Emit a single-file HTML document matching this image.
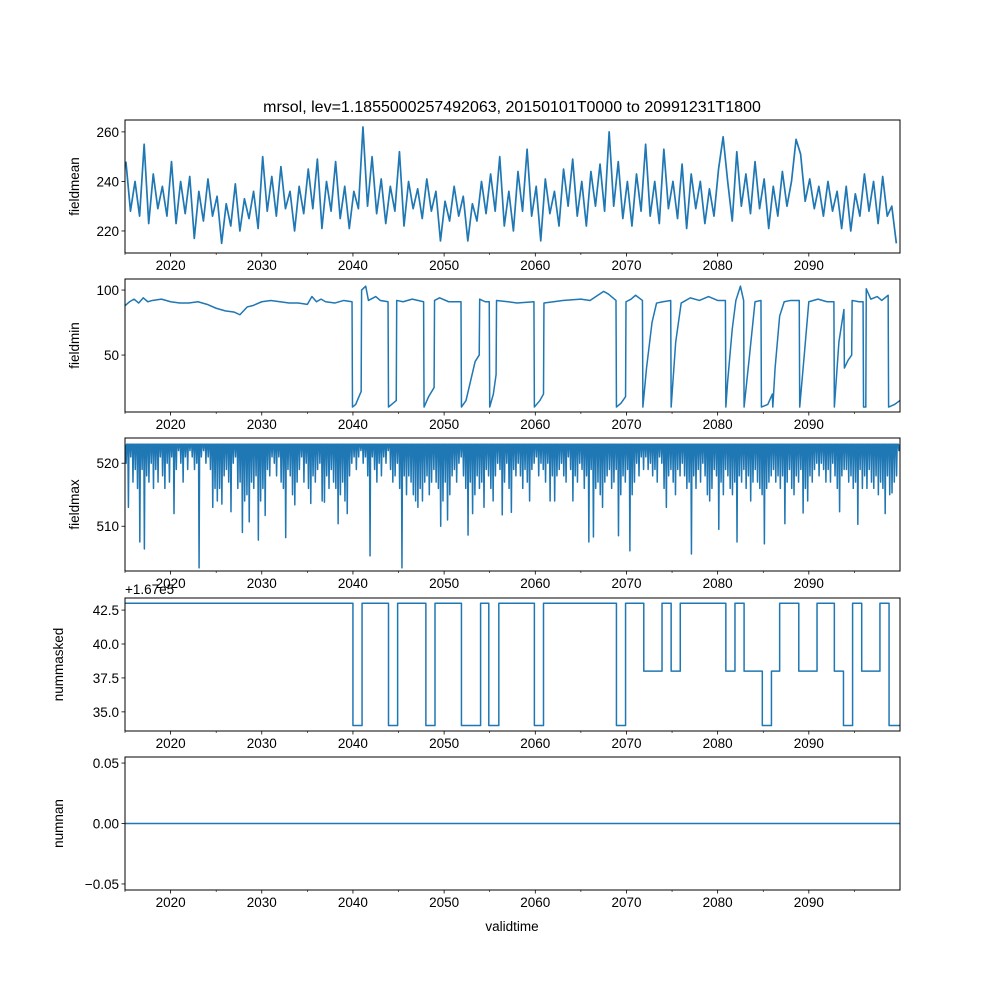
<!DOCTYPE html>
<html><head><meta charset="utf-8"><style>
body{margin:0;background:#fff}
svg text{font-family:"Liberation Sans",sans-serif;fill:#000}
</style></head><body>
<svg id="fig" width="1000" height="1000" xmlns="http://www.w3.org/2000/svg">
<rect width="1000" height="1000" fill="#fff"/>
<text x="512" y="112" font-size="16" text-anchor="middle">mrsol, lev=1.1855000257492063, 20150101T0000 to 20991231T1800</text>
<text x="512" y="931" font-size="13.5" text-anchor="middle">validtime</text>
</svg>
<script>
// ---- data ----
const meanVals = [248,228,240,226,255,223,243,229,238,226,248,223,240,227,242,217,236,224,241,226,234,215,231,222,239,220,233,225,236,221,250,228,242,226,246,229,236,220,238,227,245,229,249,221,240,228,248,225,238,221,236,229,262,230,250,227,241,223,238,228,252,222,240,229,237,225,241,228,236,216,232,224,238,226,234,216,231,224,240,227,243,228,250,222,236,220,244,228,253,226,238,216,241,227,236,222,245,230,249,226,240,222,244,230,247,228,260,230,248,225,240,222,243,228,255,226,240,223,253,229,240,225,247,221,243,229,240,223,237,226,245,258,240,224,252,230,243,227,248,229,241,221,238,226,244,230,240,257,251,232,241,229,238,226,240,228,236,221,238,220,235,226,243,228,240,223,242,226,230,215];
const minYears = [2015,2015.5,2016,2016.5,2017,2017.5,2018,2019,2020,2021,2022,2023,2024,2025,2026,2027,2027.6,2028.4,2029,2030,2031,2032,2033,2034,2035,2035.5,2036,2036.5,2037,2038,2039,2039.9,
2039.95,2040.3,2040.9,2040.95,2041.4,2041.7,2042.5,2043,2043.85,2043.9,2044.75,2044.8,2045.5,2046.5,2047.75,2047.8,2048.3,2048.9,2048.95,2049.5,2050.5,2051.85,2051.9,2052.4,2052.9,2053.4,2053.85,2053.9,2054.5,2054.95,2055.0,2055.4,2055.7,2055.75,2057,2058,2059.85,2059.9,2060.5,2060.9,2060.95,2062,2063,2065,2066,2067.5,2068,2068.85,2068.9,2069.4,2069.9,2069.95,2070.5,2071,2071.75,2071.8,2072.2,2072.8,2073.3,2074,2074.85,2074.9,2075.4,2076.0,2077,2078,2079,2080,2080.85,2080.9,2081.1,2081.6,2082.0,2082.5,2082.85,2082.9,2083.5,2084.1,2084.75,2084.8,2085.5,2086.0,2086.05,2086.3,2086.8,2087.3,2088,2088.95,2089.0,2089.5,2090.0,2091,2092,2092.75,2092.8,2093.3,2093.85,2093.9,2094.3,2094.7,2094.75,2095.5,2095.95,2096.0,2096.25,2096.3,2096.8,2097.5,2098,2098.7,2098.75,2099.4,2099.99];
const minVals = [88,91,93,90,94,91,92,93,91,90,90,91,89,86,84,83,81,87,88,91,92,91,90,90,89,95,91,93,91,90,92,91,
10,12,22,100,103,92,95,92,91,10,15,92,91,93,91,10,18,25,92,94,91,91,10,15,30,45,50,93,91,91,10,20,35,92,91,90,91,10,15,20,90,91,92,93,92,99,97,92,10,13,18,91,93,96,92,10,40,75,90,91,92,10,60,90,94,92,95,92,92,10,30,70,92,103,92,10,50,91,92,10,12,20,10,40,80,91,92,92,10,50,91,93,91,91,10,60,85,40,46,50,92,91,91,10,10,101,93,95,92,96,10,12,15];
const maxVals = [520,513,521,517,519,516,507.5,519,506.4,518,517,520,516,519,517,521,518,516,520,517,521,512,519,522,520,517,521,519,522,521,519,520,503.4,521,522,520,521,519,513,516,514,516,513.5,518,519,517,512.3,520,521,516,517,509,514,515,510.7,517,516,518,507.8,514,516,511.7,519,518,521,520,518,521,517,516,508.2,519,518,515,513.4,517,519,521,517,520,516,513.6,518,517,519,520,514,513.8,518,516,519,517,516,510.4,515,517,514,512,518,520,
521,519,521,522,520,521,518,505.3,521,519,517,520,518,521,520,522,519,517,518,520,516,503.4,518,515,518,517,515,514,513,516,514,517,518,515,517,519,517,516,510,514,517,511,515,518,519,517,520,521,518,516,508.6,517,512,515,518,516,517,513,519,518,516,514,518,520,519,511.8,517,520,516,512.2,519,518,520,518,516,519,517,514,519,520,
521,518,520,519,517,520,514,518,514,518,519,520,518,517,521,519,514,518,517,520,519,516,518,507.5,519,508.3,516,517,515,513,517,518,519,516,517,519,508.5,515,518,517,519,506.1,515,517,520,518,521,519,521,519,520,518,519,517,521,520,516,513,518,519,517,515,519,518,520,518,516,517,505.6,518,516,519,517,520,518,515,514,516,519,518,
509.5,517,515,519,518,516,515,517,507.5,518,517,519,516,518,514,517,519,517,516,515,507.2,516,517,518,519,517,518,516,518,510.4,517,519,516,515,518,517,519,512.1,516,514,518,517,519,520,518,520,519,517,519,517,520,518,516,512.3,518,519,519,517,518,516,517,510.3,519,516,518,516,519,517,516,518,515,517,516,512,518,515,515.3,517,518,522];
const stepYears = [2015,2040.0,2041.0,2043.9,2044.9,2048.0,2049.0,2051.9,2054.0,2054.9,2056.0,2059.9,2060.9,2068.9,2069.9,2071.9,2073.9,2074.9,2075.9,2080.9,2081.9,2082.9,2084.9,2085.9,2086.8,2088.9,2090.9,2092.8,2093.8,2094.8,2095.8,2097.8,2098.8,2100];
const stepVals = [43,34,43,34,43,34,43,34,43,34,43,34,43,34,43,38,43,38,43,38,43,38,34,38,43,38,43,38,34,43,38,43,34,34];
const xTicks = [2020,2030,2040,2050,2060,2070,2080,2090];
const minorTicks = [2015,2025,2035,2045,2055,2065,2075,2085,2095];
const p1Ticks=[220,240,260], p2Ticks=[50,100], p3Ticks=[510,520], p4Ticks=[35.0,37.5,40.0,42.5], p5Ticks=[-0.05,0.00,0.05];
const p4Labels=["35.0","37.5","40.0","42.5"], p5Labels=["−0.05","0.00","0.05"];

// ---- layout ----
const NS="http://www.w3.org/2000/svg", svg=document.getElementById('fig');
const X0=125,X1=900, T0=2015, T1=2100;
const xs=t=>X0+(t-T0)/(T1-T0)*(X1-X0);
const C='#1f77b4';
function el(tag,attrs,parent){const e=document.createElementNS(NS,tag);for(const k in attrs)e.setAttribute(k,attrs[k]);(parent||svg).appendChild(e);return e;}
const panels=[
 {name:'fieldmean',top:120,bot:253,lo:211.1,hi:264.8,ticks:p1Ticks,labels:p1Ticks.map(String)},
 {name:'fieldmin',top:279,bot:412,lo:6.2,hi:108.5,ticks:p2Ticks,labels:p2Ticks.map(String)},
 {name:'fieldmax',top:438,bot:571,lo:502.9,hi:524.0,ticks:p3Ticks,labels:p3Ticks.map(String)},
 {name:'nummasked',top:598,bot:731,lo:33.59,hi:43.39,ticks:p4Ticks,labels:p4Labels},
 {name:'numnan',top:757,bot:890,lo:-0.055,hi:0.055,ticks:p5Ticks,labels:p5Labels}];
panels.forEach((p,pi)=>{
 p.ys=v=>p.bot-(v-p.lo)/(p.hi-p.lo)*(p.bot-p.top);
 const g=el('g',{});
 
 
 const cp=el('clipPath',{id:'cp'+pi},g); el('rect',{x:X0,y:p.top,width:X1-X0,height:p.bot-p.top},cp);
 p.g=g;
 const dg=el('g',{'clip-path':'url(#cp'+pi+')'},g);
 p.dg=dg;
 xTicks.forEach(t=>{
  const tk=el('line',{x1:xs(t),x2:xs(t),y1:p.bot,y2:p.bot+3.5,stroke:'#000','stroke-width':0.8},g);
  
  
  const tl=el('text',{x:xs(t),y:p.bot+17,'font-size':13.5,'text-anchor':'middle'},g);
  tl.textContent=t;
  
  
 });
 minorTicks.forEach(t=>{el('line',{x1:xs(t),x2:xs(t),y1:p.bot,y2:p.bot+2,stroke:'#000','stroke-width':0.6},g);});
 p.ticks.forEach((v,i)=>{
  const y=p.ys(v);
  const tk=el('line',{x1:X0-3.5,x2:X0,y1:y,y2:y,stroke:'#000','stroke-width':0.8},g);
  
  
  const tl=el('text',{x:X0-6,y:y+5,'font-size':13.5,'text-anchor':'end'},g);
  tl.textContent=p.labels[i];
  
  
 });
 const yl=el('text',{x:0,y:0,'font-size':13.5,'text-anchor':'middle',transform:`translate(${pi===4||pi===3?63:79},${(p.top+p.bot)/2}) rotate(-90)`},g);
 yl.textContent=p.name;
 
 
});
function line(p,pts,name,w){
 const pl=el('polyline',{points:pts.map(q=>q[0].toFixed(2)+','+q[1].toFixed(2)).join(' '),fill:'none',stroke:C,'stroke-width':w||1.5,'stroke-linejoin':'round'},p.dg);
 
 
}
line(panels[0],meanVals.map((v,i)=>[xs(T0+i*0.5+0.1),panels[0].ys(v)]),'fieldmean-line',1.7);
line(panels[1],minYears.map((t,i)=>[xs(t),panels[1].ys(minVals[i])]),'fieldmin-line');
{const p=panels[2],pts=[];const base=523;
 maxVals.forEach((v,i)=>{const t=T0+i*0.25+0.125;pts.push([xs(t-0.06),p.ys(base)]);pts.push([xs(t),p.ys(v)]);pts.push([xs(t+0.06),p.ys(base)]);});
 line(p,pts,'fieldmax-line',1.5);}
{const p=panels[3],pts=[];
 for(let i=0;i<stepYears.length-1;i++){pts.push([xs(stepYears[i]),p.ys(stepVals[i])]);pts.push([xs(stepYears[i+1]),p.ys(stepVals[i])]);}
 line(p,pts,'nummasked-line');
 const off=el('text',{x:X0,y:594,'font-size':13.5},p.g);off.textContent='+1.67e5';
 
 }
line(panels[4],[[xs(T0),panels[4].ys(0)],[xs(T1),panels[4].ys(0)]],'numnan-line');
panels.forEach(p=>{const r=el('rect',{x:X0,y:p.top,width:X1-X0,height:p.bot-p.top,fill:'none',stroke:'#000','stroke-width':1},p.g);
 
 });
</script>
</body></html>
